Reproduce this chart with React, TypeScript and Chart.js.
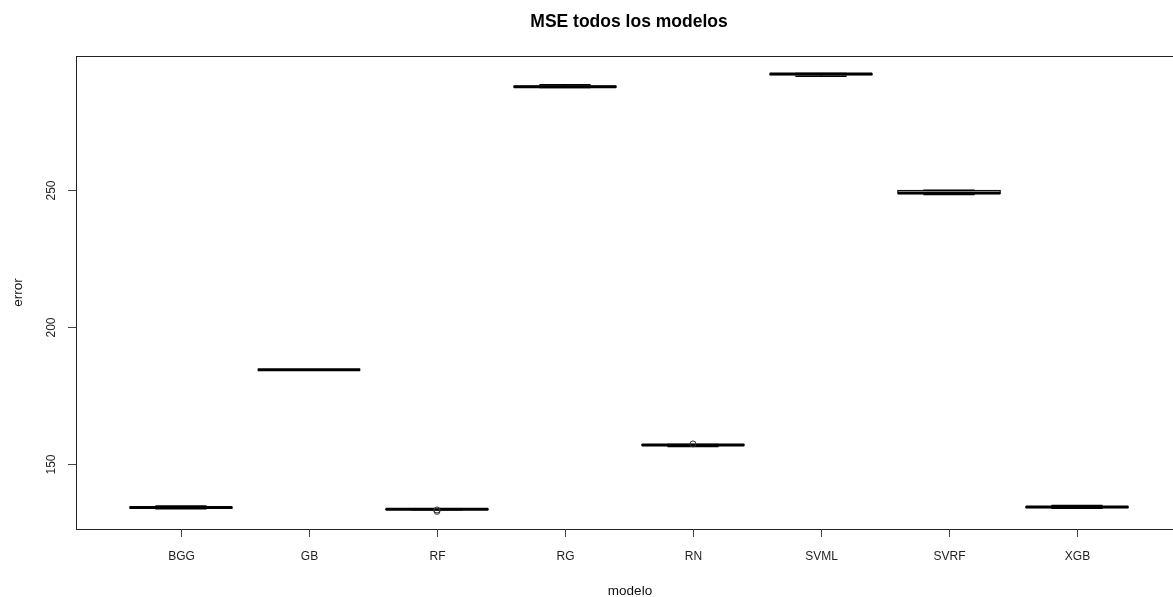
import React, { useEffect, useRef } from "react";
import { Chart, registerables } from "chart.js";

Chart.register(...registerables);

// ---- data ----
const models = ["BGG", "GB", "RF", "RG", "RN", "SVML", "SVRF", "XGB"];
const whiskerLow = [133.7, 184.3, 133.3, 287.2, 156.4, 291.3, 248.2, 133.9];
const quartile1 = [133.9, 184.3, 133.4, 287.35, 156.8, 291.9, 248.55, 134.1];
const medians = [134.1, 184.3, 133.5, 287.5, 156.95, 292.1, 248.75, 134.3];
const quartile3 = [134.3, 184.3, 133.6, 287.7, 157.05, 292.2, 249.7, 134.45];
const whiskerHigh = [134.7, 184.3, 133.7, 288.2, 157.1, 292.3, 249.75, 134.85];
const outlierModel = ["RF", "RF", "RN"];
const outlierValue = [133.25, 132.75, 157.3];
const yTicks = [150, 200, 250];
const titleText = "MSE todos los modelos";
const xTitle = "modelo";
const yTitle = "error";

const FONT = "'Liberation Sans', Arial, Helvetica, sans-serif";

const boxPlugin = {
  id: "rBoxplot",
  beforeDatasetsDraw(chart: any) {
    const { ctx, scales } = chart;
    const x = scales.x;
    const y = scales.y;
    ctx.save();
    models.forEach((_, i) => {
      const pos = i + 1;
      const bl = x.getPixelForValue(pos - 0.4);
      const br = x.getPixelForValue(pos + 0.4);
      const sl = x.getPixelForValue(pos - 0.2);
      const sr = x.getPixelForValue(pos + 0.2);
      const cx = x.getPixelForValue(pos);
      const yLo = y.getPixelForValue(whiskerLow[i]);
      const yQ1 = y.getPixelForValue(quartile1[i]);
      const yMed = y.getPixelForValue(medians[i]);
      const yQ3 = y.getPixelForValue(quartile3[i]);
      const yHi = y.getPixelForValue(whiskerHigh[i]);
      ctx.strokeStyle = "#000";
      // whiskers (dashed)
      ctx.lineWidth = 1;
      ctx.setLineDash([4, 3]);
      ctx.beginPath();
      ctx.moveTo(cx, yQ1);
      ctx.lineTo(cx, yLo);
      ctx.moveTo(cx, yQ3);
      ctx.lineTo(cx, yHi);
      ctx.stroke();
      ctx.setLineDash([]);
      // staples
      ctx.lineWidth = 1.5;
      ctx.beginPath();
      ctx.moveTo(sl, yLo);
      ctx.lineTo(sr, yLo);
      ctx.moveTo(sl, yHi);
      ctx.lineTo(sr, yHi);
      ctx.stroke();
      // box
      ctx.lineWidth = 1;
      ctx.strokeRect(bl, yQ3, br - bl, yQ1 - yQ3);
      // median
      ctx.lineWidth = 3;
      ctx.beginPath();
      ctx.moveTo(bl, yMed);
      ctx.lineTo(br, yMed);
      ctx.stroke();
    });
    ctx.restore();
  },
  afterDraw(chart: any) {
    const { ctx, chartArea, scales } = chart;
    const x = scales.x;
    const y = scales.y;
    const { left, top, right, bottom } = chartArea;
    ctx.save();
    // frame
    ctx.strokeStyle = "#222";
    ctx.lineWidth = 1;
    ctx.strokeRect(left + 0.5, top + 0.5, right - left, bottom - top);
    // x ticks + labels
    ctx.fillStyle = "#222";
    ctx.font = `12px ${FONT}`;
    ctx.textAlign = "center";
    ctx.textBaseline = "middle";
    ctx.strokeStyle = "#444";
    models.forEach((m, i) => {
      const px = Math.round(x.getPixelForValue(i + 1)) + 0.5;
      ctx.beginPath();
      ctx.moveTo(px, bottom);
      ctx.lineTo(px, bottom + 8);
      ctx.stroke();
      ctx.fillText(m, px, bottom + 28);
    });
    // y ticks + labels
    yTicks.forEach((t) => {
      const py = Math.round(y.getPixelForValue(t)) + 0.5;
      ctx.beginPath();
      ctx.moveTo(left, py);
      ctx.lineTo(left - 8, py);
      ctx.stroke();
      ctx.save();
      ctx.translate(left - 24, py);
      ctx.rotate(-Math.PI / 2);
      ctx.fillText(String(t), 0, 0);
      ctx.restore();
    });
    // axis titles
    ctx.fillStyle = "#111";
    ctx.font = `13.5px ${FONT}`;
    ctx.fillText(xTitle, (left + right) / 2 + 1, bottom + 62);
    ctx.save();
    ctx.translate(18, (top + bottom) / 2);
    ctx.rotate(-Math.PI / 2);
    ctx.fillText(yTitle, 0, 0);
    ctx.restore();
    // main title
    ctx.fillStyle = "#000";
    ctx.font = `bold 17.5px ${FONT}`;
    ctx.fillText(titleText, (left + right) / 2, 22);
    ctx.restore();
  },
};

export default function App() {
  const ref = useRef<HTMLCanvasElement | null>(null);
  useEffect(() => {
    document.body.style.margin = "0";
    document.documentElement.style.overflow = "hidden";
    const canvas = ref.current;
    if (!canvas) return;
    const points = outlierModel.map((m, k) => ({
      x: models.indexOf(m) + 1,
      y: outlierValue[k],
    }));
    const chart = new Chart(canvas, {
      type: "scatter",
      data: {
        datasets: [
          {
            label: "outliers",
            data: points,
            pointStyle: "circle",
            pointRadius: 3,
            pointBorderWidth: 1,
            borderColor: "#000",
            backgroundColor: "rgba(0,0,0,0)",
            pointBackgroundColor: "rgba(0,0,0,0)",
            pointBorderColor: "#333",
          },
        ],
      },
      options: {
        responsive: false,
        maintainAspectRatio: false,
        animation: false,
        devicePixelRatio: 1,
        layout: { padding: { left: 76, top: 56, right: 18, bottom: 68 } },
        scales: {
          x: { type: "linear", min: 0.18, max: 8.82, display: false },
          y: { type: "linear", min: 126.3, max: 298.7, display: false },
        },
        plugins: {
          legend: { display: false },
          tooltip: { enabled: false },
          title: { display: false },
        },
      },
      plugins: [boxPlugin],
    });
    return () => chart.destroy();
  }, []);
  return (
    <div style={{ width: 1173, height: 597, overflow: "hidden", background: "#fff" }}>
      <canvas ref={ref} width={1200} height={597} style={{ display: "block", width: 1200, height: 597 }} />
    </div>
  );
}
